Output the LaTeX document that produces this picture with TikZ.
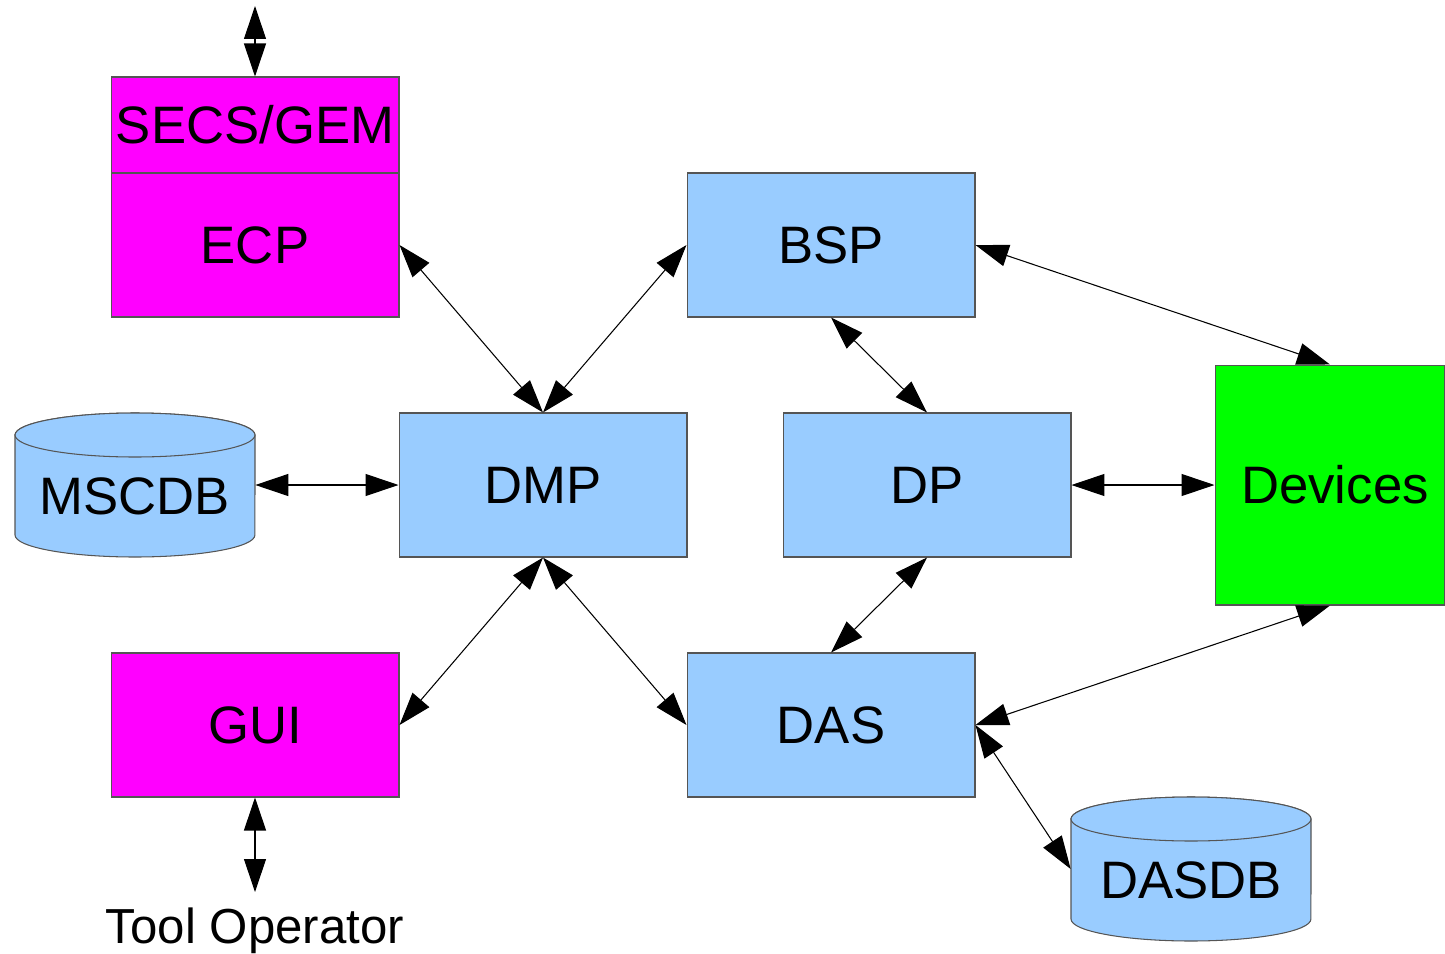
\documentclass[tikz,border=0pt]{standalone}
\usepackage{fontspec}
\setmainfont{Liberation Sans}
\usetikzlibrary{arrows.meta}
\definecolor{procblue}{HTML}{99CCFF}
\definecolor{hostpink}{HTML}{FF00FF}
\definecolor{devgreen}{HTML}{00FF00}
\definecolor{edge}{HTML}{555555}
\begin{document}
\begin{tikzpicture}[x=0.02cm,y=-0.02cm,
  box/.style={draw=edge,line width=0.6pt,inner sep=0pt,minimum width=5.76cm,minimum height=2.88cm,
    font=\fontsize{30}{36}\selectfont},
  bluebox/.style={box,fill=procblue},
  pinkbox/.style={box,fill=hostpink},
  anchorbox/.style={inner sep=0pt,minimum width=4.8cm,minimum height=2.88cm,font=\fontsize{30}{36}\selectfont},
  dbshape/.style={draw=edge,line width=0.6pt,fill=procblue},
  link/.style={{Triangle[length=0.66cm,width=0.44cm]}-{Triangle[length=0.66cm,width=0.44cm]},line width=0.6pt,black}]
\useasboundingbox (0,0) rectangle (1445,954);

% hosts
\node[pinkbox,minimum height=1.92cm] (SECS) at (255,125) {SECS/GEM};
\node[pinkbox] (ECP) at (255,245) {ECP};
\node[pinkbox] (GUI) at (255,725) {GUI};

% processes
\node[bluebox] (BSP) at (831,245) {BSP};
\node[bluebox] (DMP) at (543,485) {DMP};
\node[bluebox] (DP) at (927,485) {DP};
\node[bluebox] (DAS) at (831,725) {DAS};

% devices
\node[box,fill=devgreen,minimum width=4.6cm,minimum height=4.8cm] (DEV) at (1330,485) {};
\node[font=\fontsize{30}{36}\selectfont] (DEVtxt) at (1335,485) {Devices};

% databases
\path[dbshape] (15,435) -- (15,535) arc[start angle=180,end angle=360,x radius=2.4cm,y radius=0.44cm]
  -- (255,435) arc[start angle=0,end angle=180,x radius=2.4cm,y radius=0.44cm] -- cycle;
\draw[dbshape] (135,435) ellipse[x radius=2.4cm,y radius=0.44cm];
\node[anchorbox] (MSCDB) at (135,485) {};
\node[font=\fontsize{30}{36}\selectfont] (MSCDBtxt) at (135,496) {MSCDB};

\path[dbshape] (1071,819) -- (1071,919) arc[start angle=180,end angle=360,x radius=2.4cm,y radius=0.44cm]
  -- (1311,819) arc[start angle=0,end angle=180,x radius=2.4cm,y radius=0.44cm] -- cycle;
\draw[dbshape] (1191,819) ellipse[x radius=2.4cm,y radius=0.44cm];
\node[anchorbox] (DASDB) at (1191,869) {};
\node[font=\fontsize{30}{36}\selectfont] (DASDBtxt) at (1191,880) {DASDB};

% external ends
\coordinate (host) at (255,6);
\coordinate (opend) at (255,892);
\node[font=\fontsize{28}{32}\selectfont] (OP) at (255,931) {Tool Operator};

% connectors
\draw[link] (host) -- (SECS.north);
\draw[link] (GUI.south) -- (opend);
\draw[link] (ECP.east) -- (DMP.north);
\draw[link] (BSP.west) -- (DMP.north);
\draw[link] (BSP.east) -- (DEV.north);
\draw[link] (BSP.south) -- (DP.north);
\draw[link] (MSCDB.east) -- (DMP.west);
\draw[link] (DP.east) -- (DEV.west);
\draw[link] (DMP.south) -- (GUI.east);
\draw[link] (DMP.south) -- (DAS.west);
\draw[link] (DP.south) -- (DAS.north);
\draw[link] (DEV.south) -- (DAS.east);
\draw[link] (DAS.east) -- (DASDB.west);
\end{tikzpicture}
\end{document}
